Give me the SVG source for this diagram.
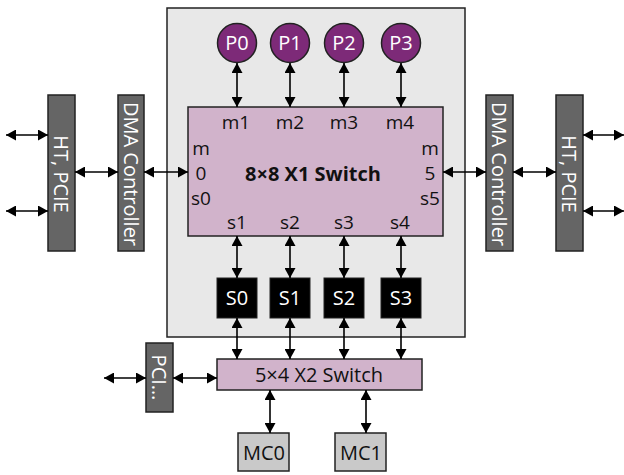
<svg xmlns="http://www.w3.org/2000/svg" width="624" height="475" viewBox="0 0 624 475">
  <defs>
    <marker id="ah" viewBox="0 0 10 11" refX="10" refY="5.5" markerWidth="10" markerHeight="11" markerUnits="userSpaceOnUse" orient="auto-start-reverse">
      <path d="M0,0 L10,5.5 L0,11 Z" fill="#000"/>
    </marker>
    <style>
      text { font-family: "Open Sans", "Noto Sans", "DejaVu Sans", sans-serif; }
      .chip { fill: #e8e8e8; stroke: #222; stroke-width: 1.5; }
      .sw { fill: #d1b3cb; stroke: #222; stroke-width: 1.5; }
      .proc { fill: #7d2a78; stroke: #222; stroke-width: 1.5; }
      .io { fill: #656565; stroke: #222; stroke-width: 1.5; }
      .slc { fill: #000; stroke: #222; stroke-width: 1; }
      .mc { fill: #c9c9c9; stroke: #222; stroke-width: 1.5; }
      .lbl { font-size: 19px; fill: #111; text-anchor: middle; }
      .big { font-size: 20px; fill: #111; text-anchor: middle; }
      .wt { font-size: 20px; fill: #fff; text-anchor: middle; }
      .vt { font-size: 20px; fill: #fff; text-anchor: middle; dominant-baseline: central; }
      .conn line { stroke: #000; stroke-width: 1.6; marker-start: url(#ah); marker-end: url(#ah); }
    </style>
  </defs>

  <!-- chip boundary -->
  <g id="chip">
    <rect class="chip" x="167" y="8" width="298" height="329"/>
  </g>

  <!-- processors -->
  <g id="P0"><circle class="proc" cx="237" cy="43" r="19.5"/><text class="wt" x="237" y="50">P0</text></g>
  <g id="P1"><circle class="proc" cx="290" cy="43" r="19.5"/><text class="wt" x="290" y="50">P1</text></g>
  <g id="P2"><circle class="proc" cx="344" cy="43" r="19.5"/><text class="wt" x="344" y="50">P2</text></g>
  <g id="P3"><circle class="proc" cx="401" cy="43" r="19.5"/><text class="wt" x="401" y="50">P3</text></g>

  <!-- main crossbar -->
  <g id="switch-x1">
    <rect class="sw" x="188" y="107" width="255" height="129"/>
    <text class="lbl" x="236" y="129">m1</text>
    <text class="lbl" x="290" y="129">m2</text>
    <text class="lbl" x="344" y="129">m3</text>
    <text class="lbl" x="400" y="129">m4</text>
    <text class="lbl" x="237" y="229">s1</text>
    <text class="lbl" x="290" y="229">s2</text>
    <text class="lbl" x="344" y="229">s3</text>
    <text class="lbl" x="400" y="229">s4</text>
    <text class="lbl" x="201" y="155">m</text>
    <text class="lbl" x="201" y="180">0</text>
    <text class="lbl" x="201" y="205">s0</text>
    <text class="lbl" x="430" y="155">m</text>
    <text class="lbl" x="430" y="180">5</text>
    <text class="lbl" x="430" y="205">s5</text>
    <text class="big" x="313" y="181" style="font-weight:bold">8×8 X1 Switch</text>
  </g>

  <!-- cache slices -->
  <g id="S0"><rect class="slc" x="217" y="278" width="40" height="40"/><text class="wt" x="237" y="305">S0</text></g>
  <g id="S1"><rect class="slc" x="270" y="278" width="40" height="40"/><text class="wt" x="290" y="305">S1</text></g>
  <g id="S2"><rect class="slc" x="324" y="278" width="40" height="40"/><text class="wt" x="344" y="305">S2</text></g>
  <g id="S3"><rect class="slc" x="381" y="278" width="40" height="40"/><text class="wt" x="401" y="305">S3</text></g>

  <!-- second-level crossbar -->
  <g id="switch-x2">
    <rect class="sw" x="217" y="359" width="205" height="31"/>
    <text class="big" x="319" y="382">5×4 X2 Switch</text>
  </g>

  <!-- I/O blocks -->
  <g id="ht-left"><rect class="io" x="48" y="95" width="27" height="156"/><text class="vt" transform="translate(61.5,174) rotate(90)">HT, PCIE</text></g>
  <g id="dma-left"><rect class="io" x="118" y="95" width="26" height="156"/><text class="vt" transform="translate(131,174) rotate(90)">DMA Controller</text></g>
  <g id="dma-right"><rect class="io" x="486" y="95" width="27" height="156"/><text class="vt" transform="translate(499.5,174) rotate(90)">DMA Controller</text></g>
  <g id="ht-right"><rect class="io" x="556" y="95" width="27" height="156"/><text class="vt" transform="translate(569.5,174) rotate(90)">HT, PCIE</text></g>
  <g id="pci"><rect class="io" x="146" y="343" width="27" height="69"/><text class="vt" transform="translate(159.5,377.5) rotate(90)">PCI…</text></g>

  <!-- memory controllers -->
  <g id="MC0"><rect class="mc" x="238" y="433" width="51" height="38"/><text class="big" x="264" y="460">MC0</text></g>
  <g id="MC1"><rect class="mc" x="335" y="433" width="51" height="38"/><text class="big" x="361" y="460">MC1</text></g>

  <!-- connectors -->
  <g id="connectors" class="conn">
    <line x1="237" y1="63" x2="237" y2="107"/>
    <line x1="290" y1="63" x2="290" y2="107"/>
    <line x1="344" y1="63" x2="344" y2="107"/>
    <line x1="401" y1="63" x2="401" y2="107"/>

    <line x1="237" y1="236" x2="237" y2="278"/>
    <line x1="290" y1="236" x2="290" y2="278"/>
    <line x1="344" y1="236" x2="344" y2="278"/>
    <line x1="401" y1="236" x2="401" y2="278"/>

    <line x1="237" y1="318" x2="237" y2="359"/>
    <line x1="290" y1="318" x2="290" y2="359"/>
    <line x1="344" y1="318" x2="344" y2="359"/>
    <line x1="401" y1="318" x2="401" y2="359"/>

    <line x1="6" y1="135" x2="48" y2="135"/>
    <line x1="6" y1="211" x2="48" y2="211"/>
    <line x1="75" y1="172" x2="118" y2="172"/>
    <line x1="144" y1="172" x2="188" y2="172"/>

    <line x1="443" y1="172" x2="486" y2="172"/>
    <line x1="513" y1="172" x2="556" y2="172"/>
    <line x1="583" y1="135" x2="624" y2="135"/>
    <line x1="583" y1="211" x2="624" y2="211"/>

    <line x1="104" y1="378" x2="146" y2="378"/>
    <line x1="173" y1="378" x2="217" y2="378"/>

    <line x1="270" y1="390" x2="270" y2="433"/>
    <line x1="366" y1="390" x2="366" y2="433"/>
  </g>
</svg>
